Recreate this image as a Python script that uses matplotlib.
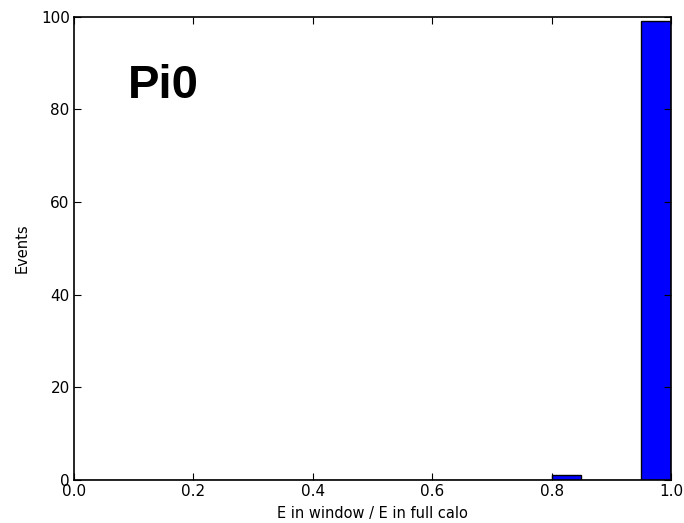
import matplotlib

matplotlib.use("Agg")
import matplotlib.pyplot as plt
import numpy as np

# histogram of E(window)/E(full calo), 20 bins over [0, 1]
bin_edges = [i / 20 for i in range(21)]
counts = [0, 0, 0, 0, 0, 0, 0, 0, 0, 0,
          0, 0, 0, 0, 0, 0, 1, 0, 0, 99]
label = "Pi0"

fig = plt.figure(figsize=(6.84, 5.23), dpi=100)
ax = fig.add_axes([0.108, 0.082, 0.873, 0.886])

centers = np.array(bin_edges[:-1])
ax.hist(centers, bins=bin_edges, weights=counts, color="#0000ff",
        edgecolor="black", linewidth=1.0)

ax.set_xlim(0, 1)
ax.set_ylim(0, 100)
ax.set_xticks([0.0, 0.2, 0.4, 0.6, 0.8, 1.0])
ax.set_yticks([0, 20, 40, 60, 80, 100])
ax.tick_params(direction="in", length=5, labelsize=11, top=True, right=True, pad=3)
for s in ax.spines.values():
    s.set_linewidth(1.2)

ax.set_xlabel("E in window / E in full calo", fontsize=10.5, labelpad=5)
ax.set_ylabel("Events", fontsize=10.5, labelpad=8)
ax.text(0.09, 85, label, fontsize=34, fontweight="bold",
        family=["Liberation Sans", "DejaVu Sans"], va="center", ha="left")

fig.savefig("out.png", dpi=100)
